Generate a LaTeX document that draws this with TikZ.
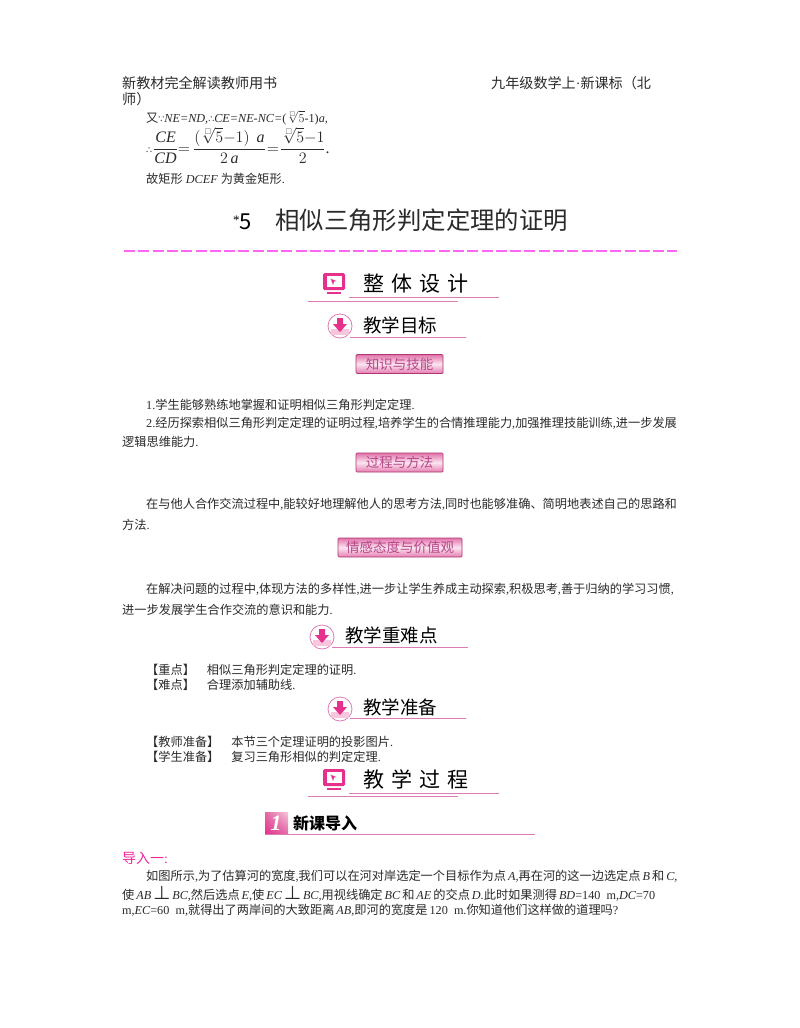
\RequirePackage{fix-cm}
\documentclass[tikz,border=0pt]{standalone}
\usepackage{amsmath,amssymb}
\usepackage{fontspec}
\usetikzlibrary{shadings}
\setmainfont{Noto Sans CJK SC}
\newfontfamily\serifen{Liberation Serif}
\newfontfamily\symbolfont{DejaVu Sans}
\newcommand{\en}[1]{{\serifen #1}}
\newcommand{\mi}[1]{{\serifen\itshape #1}}
\newcommand{\cm}{{\serifen ,}}
\newcommand{\pd}{{\serifen .}}
\newcommand{\ts}{\hspace{2pt}}
\newcommand{\since}{{\symbolfont\fontsize{9.5}{12}\selectfont ∵}}
\newcommand{\hence}{{\symbolfont\fontsize{9.5}{12}\selectfont ∴}}
\newcommand{\rootfive}{\sqrt[\scriptscriptstyle\square]{5}}
\newcommand{\perpmark}{\raisebox{-0.5pt}{\fontsize{19}{19}\selectfont$\boldsymbol{\perp}$}}
\definecolor{inkgray}{HTML}{2A2A2A}
\definecolor{rose}{HTML}{D9458F}
\definecolor{roseline}{HTML}{DC7CB4}
\definecolor{rosedeep}{HTML}{E5318B}
\definecolor{rosepale}{HTML}{F7C6DD}
\definecolor{tagtext}{HTML}{B5488A}
\definecolor{dashpink}{HTML}{FF66F5}
\tikzset{
  body/.style={anchor=base west,inner sep=0pt,text=inkgray,font=\fontsize{12.2}{14}\selectfont},
  pagehead/.style={body,font=\fontsize{14.1}{16}\selectfont},
  headA/.style={anchor=base west,inner sep=0pt,text=black,font=\fontsize{21}{24}\selectfont},
  headB/.style={anchor=base west,inner sep=0pt,text=black,font=\fontsize{18.5}{22}\selectfont},
  rule/.style={draw=roseline,line width=1pt},
  tag/.style={draw=rose!80!black,line width=0.7pt,rounded corners=1pt,top color=rose!75,bottom color=rose!70,
    middle color=rosepale!45,text=tagtext,inner sep=0pt,minimum height=19pt,font=\fontsize{13.5}{15}\selectfont},
}
% monitor icon
\newcommand{\monitoricon}[1]{
  \begin{scope}[shift={(#1)}]
    \fill[rosedeep,rounded corners=1.5pt] (-11,-10) rectangle (11,7);
    \fill[white] (-7.5,-7) rectangle (7.5,4);
    \fill[rosepale] (-4,-5) -- (3,-2) -- (0,-1) -- (-1,3) -- cycle;
    \fill[rosedeep] (-3,-4) -- (2,-2) -- (0,-1.5) -- (-1,1.5) -- cycle;
    \fill[rosedeep] (-7,9) rectangle (7,11);
  \end{scope}
}
% arrow in circle icon
\newcommand{\arrowicon}[1]{
  \begin{scope}[shift={(#1)}]
    \fill[white] (0,0) circle (12);
    \draw[roseline,line width=0.8pt] (0,0) circle (12);
    \fill[rosepale] (-9,3) rectangle (9,9);
    \fill[rosedeep] (-3,-8) -- (3,-8) -- (3,-2) -- (7,-2) -- (0,6) -- (-7,-2) -- (-3,-2) -- cycle;
  \end{scope}
}
\begin{document}
\begin{tikzpicture}[x=1pt,y=-1pt]
  \useasboundingbox (0,0) rectangle (800,1028);
  \fill[white] (0,0) rectangle (800,1028);
  % page head
  \node[pagehead] (headleft) at (122,88) {新教材完全解读教师用书};
  \node[pagehead] (headright) at (491,88) {九年级数学上{\serifen ·}新课标（北};
  \node[pagehead] (headwrap) at (122,104) {师）};
  % end of the previous lesson
  \node[body] (again) at (146,122) {又\since\mi{NE=ND,}\hence\mi{CE=NE-NC=}\en{(}$\rootfive$\en{-1)}\mi{a,}};
  \node[body,font=\fontsize{16}{18}\selectfont] (ratio) at (146,153)
    {\hence\hspace{1pt}$\dfrac{\text{\mi{CE}}}{\text{\mi{CD}}}{=}\hspace{3pt}\dfrac{(\rootfive{-}1)\hspace{7pt}\text{\mi{a}}}{2\,\text{\mi{a}}}\hspace{1pt}{=}\hspace{1pt}\dfrac{\rootfive{-}1}{2}$\en{.}};
  \node[body] (golden) at (146,183) {故矩形\mi{ DCEF }为黄金矩形\pd};
  % section title
  \node[anchor=base west,inner sep=0pt,font=\fontsize{22}{26}\selectfont] (titlenum) at (233,229) {\raisebox{5pt}{\serifen\fontsize{13}{14}\selectfont *}5};
  \node[anchor=base west,inner sep=0pt,font=\fontsize{24.4}{28}\selectfont,text=inkgray] (title) at (275,229) {相似三角形判定定理的证明};
  \draw[dashpink,line width=2pt,dash pattern=on 11pt off 3.3pt] (124,250.5) -- (677,250.5);
  % overall design
  \monitoricon{334,283}
  \node[headA] (design) at (363,291) {整\hspace{7pt}体\hspace{7pt}设\hspace{7pt}计};
  \draw[rule] (349,297) -- (499,297);
  \draw[rule] (308,301) -- (458,301);
  % aims
  \arrowicon{340,326}
  \node[headB] (aims) at (363,332) {教学目标};
  \draw[rule] (350,337) -- (466,337);
  \node[tag,minimum width=87pt] (skill) at (399.5,364) {知识与技能};
  \node[body] (aimone) at (146,409) {\en{1.}学生能够熟练地掌握和证明相似三角形判定定理\pd};
  \node[body] (aimtwo) at (146,427) {\en{2.}经历探索相似三角形判定定理的证明过程\cm 培养学生的合情推理能力\cm 加强推理技能训练\cm 进一步发展};
  \node[body] (aimtwob) at (122,446) {逻辑思维能力\pd};
  \node[tag,minimum width=87pt] (method) at (399.5,462.5) {过程与方法};
  \node[body] (mtext) at (146,508) {在与他人合作交流过程中\cm 能较好地理解他人的思考方法\cm 同时也能够准确、简明地表述自己的思路和};
  \node[body] (mtextb) at (122,529) {方法\pd};
  \node[tag,minimum width=124pt] (value) at (400,547.5) {情感态度与价值观};
  \node[body] (vtext) at (146,593) {在解决问题的过程中\cm 体现方法的多样性\cm 进一步让学生养成主动探索\cm 积极思考\cm 善于归纳的学习习惯\cm};
  \node[body] (vtextb) at (122,614) {进一步发展学生合作交流的意识和能力\pd};
  % key points
  \arrowicon{322,637}
  \node[headB] (keypts) at (345,642) {教学重难点};
  \draw[rule] (332,647) -- (468,647);
  \node[body] (keyone) at (146,674) {【重点】\hspace{12pt}相似三角形判定定理的证明\pd};
  \node[body] (keytwo) at (146,689) {【难点】\hspace{12pt}合理添加辅助线\pd};
  % preparation
  \arrowicon{340,709}
  \node[headB] (prep) at (363,714) {教学准备};
  \draw[rule] (350,718) -- (466,718);
  \node[body] (prepone) at (146,746) {【教师准备】\hspace{12pt}本节三个定理证明的投影图片\pd};
  \node[body] (preptwo) at (146,761) {【学生准备】\hspace{12pt}复习三角形相似的判定定理\pd};
  % teaching process
  \monitoricon{334,779}
  \node[headA] (process) at (363,787) {教\hspace{7pt}学\hspace{7pt}过\hspace{7pt}程};
  \draw[rule] (349,793) -- (499,793);
  \draw[rule] (308,796) -- (458,796);
  % new lesson badge
  \shade[lower left=rosedeep,upper right=rosepale,lower right=rose!80,upper left=rose!80] (265,812) rectangle (288,834);
  \node[anchor=center,inner sep=0pt,text=white,font=\fontsize{22}{24}\selectfont\serifen\bfseries\itshape] (badge) at (276,823) {1};
  \node[anchor=base west,inner sep=0pt,font=\fontsize{16}{18}\selectfont\bfseries] (newlesson) at (293,829) {新课导入};
  \draw[rule] (265,834) -- (535,834);
  % lead-in
  \node[body,text=magenta!85,font=\fontsize{14}{16}\selectfont] (leadin) at (122,863) {导入一{\serifen :}};
  \node[body] (liA) at (146,880) {如图所示\cm 为了估算河的宽度\cm 我们可以在河对岸选定一个目标作为点\ts\mi{A,}再在河的这一边选定点\ts\mi{B}\ts 和\ts\mi{C,}};
  \node[body] (liB) at (122,899) {使\ts\mi{AB}\ts\perpmark\ts\mi{BC,}然后选点\ts\mi{E,}使\ts\mi{EC}\ts\perpmark\ts\mi{BC,}用视线确定\ts\mi{BC}\ts 和\ts\mi{AE}\ts 的交点\ts\mi{D.}此时如果测得\ts\mi{BD}\en{=140\ \ m,}\mi{DC}\en{=70}};
  \node[body] (liC) at (122,914) {\en{m,}\mi{EC}\en{=60\ \ m,}就得出了两岸间的大致距离\ts\mi{AB,}即河的宽度是\ts\en{120\ \ m.}你知道他们这样做的道理吗\en{?}};
\end{tikzpicture}
\end{document}
